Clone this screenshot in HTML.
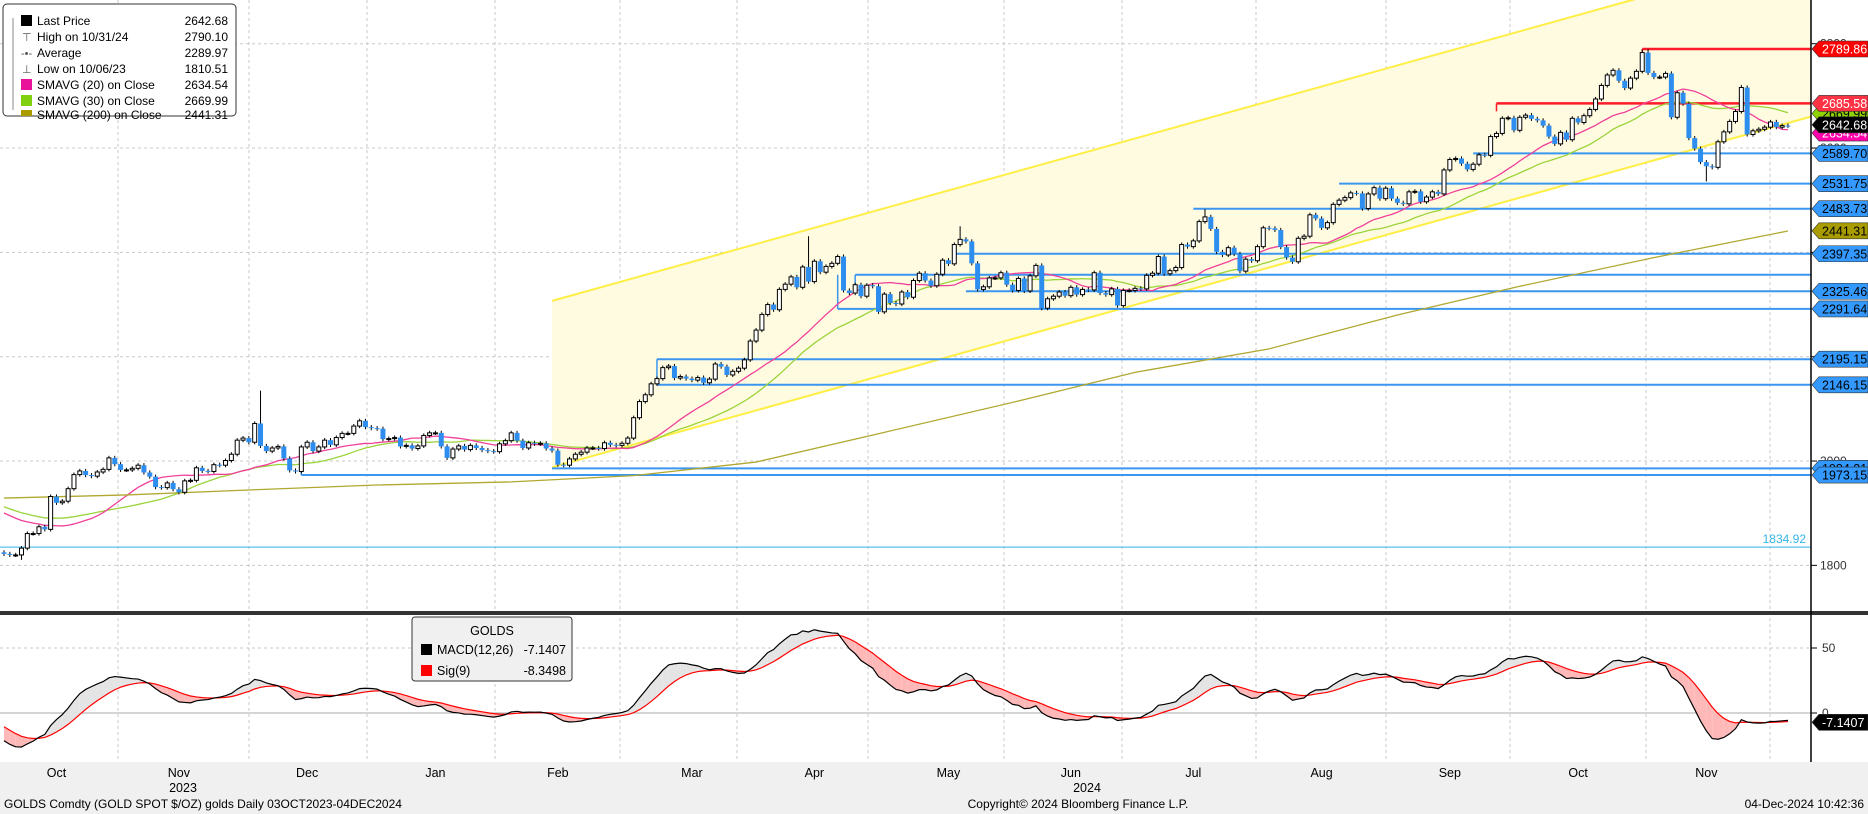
<!DOCTYPE html>
<html><head><meta charset="utf-8"><style>
html,body{margin:0;padding:0;background:#fff;}
svg{display:block;font-family:"Liberation Sans",sans-serif;}
</style></head><body>
<svg id="chart" width="1868" height="814" viewBox="0 0 1868 814" xmlns="http://www.w3.org/2000/svg">
<defs><clipPath id="mainClip"><rect x="0" y="0" width="1811" height="611"/></clipPath>
<clipPath id="macdClip"><rect x="0" y="615" width="1811" height="147"/></clipPath></defs>
<rect x="0" y="0" width="1868" height="814" fill="#fff"/>
<g id="grid"></g>
<g id="main" clip-path="url(#mainClip)"></g>
<g id="macd" clip-path="url(#macdClip)"></g>
<rect x="0" y="611" width="1868" height="4" fill="#333"/>
<rect x="0" y="762" width="1868" height="52" fill="#f0f0f0"/>
<line x1="1811" y1="0" x2="1811" y2="762" stroke="#000" stroke-width="1.5"/>
<g id="axis"></g>
<g id="tags"></g>

<g>
<rect x="3" y="4" width="233" height="112" rx="4" fill="#fff" fill-opacity="0.95" stroke="#333" stroke-width="1"/>
<g font-size="12" fill="#000">
<rect x="21" y="15" width="11" height="11" fill="#000"/><text x="37" y="25">Last Price</text><text x="228" y="25" text-anchor="end">2642.68</text>
<text x="22" y="41" font-size="11" fill="#555">⊤</text><text x="37" y="41">High on 10/31/24</text><text x="228" y="41" text-anchor="end">2790.10</text>
<text x="21" y="57" font-size="11" fill="#555">-•-</text><text x="37" y="57">Average</text><text x="228" y="57" text-anchor="end">2289.97</text>
<text x="22" y="73" font-size="11" fill="#555">⊥</text><text x="37" y="73">Low on 10/06/23</text><text x="228" y="73" text-anchor="end">1810.51</text>
<rect x="21" y="79" width="11" height="11" fill="#e8139a"/><text x="37" y="89">SMAVG (20)  on Close</text><text x="228" y="89" text-anchor="end">2634.54</text>
<rect x="21" y="95" width="11" height="11" fill="#80d010"/><text x="37" y="105">SMAVG (30)  on Close</text><text x="228" y="105" text-anchor="end">2669.99</text>
<rect x="21" y="110" width="11" height="6" fill="#a89c00"/><text x="37" y="119">SMAVG (200)  on Close</text><text x="228" y="119" text-anchor="end">2441.31</text>
</g>
<path d="M13 18 V110" stroke="#888" stroke-width="1" fill="none"/>
</g>

<g>
<rect x="412" y="617" width="160" height="64" rx="3" fill="#f0f0f0" stroke="#333"/>
<text x="492" y="635" text-anchor="middle" font-size="12.5">GOLDS</text>
<rect x="421" y="644" width="11" height="11" fill="#000"/><text x="437" y="654" font-size="12.5">MACD(12,26)</text><text x="566" y="654" font-size="12.5" text-anchor="end">-7.1407</text>
<rect x="421" y="665" width="11" height="11" fill="#f00"/><text x="437" y="675" font-size="12.5">Sig(9)</text><text x="566" y="675" font-size="12.5" text-anchor="end">-8.3498</text>
</g>

<g font-size="12" fill="#000">
<text x="4" y="808">GOLDS Comdty (GOLD SPOT $/OZ) golds  Daily 03OCT2023-04DEC2024</text>
<text x="1078" y="808" text-anchor="middle">Copyright© 2024 Bloomberg Finance L.P.</text>
<text x="1864" y="808" text-anchor="end">04-Dec-2024 10:42:36</text>
</g>
</svg>
<script>
// ---- data ----
const lookback = [1915,1918,1923,1920,1938,1939,1942,1940,1942,1940,1940,1939,1926,1916,1919,1922,1919,1913,1908,1910,1923,1933,1931,1930,1920,1925,1916,1901,1900,1874,1865,1848,1828];
const closes = [
1822,1820,1820,1833,1861,1861,1874,1869,1932,1920,1923,1947,1974,1981,1973,1971,1979,1984,2006,1994,1983,
1983,1986,1992,1978,1970,1950,1949,1958,1946,1940,1962,1963,1987,1981,1980,1993,1992,2001,2013,2040,2044,2036,
2072,2029,2019,2025,2028,2005,1982,1980,2027,2036,2019,2027,2040,2031,2045,2053,2053,2067,2077,2065,2063,
2062,2042,2043,2045,2028,2030,2024,2029,2049,2054,2054,2028,2006,2023,2029,2022,2030,2025,2021,2019,2018,2033,2039,
2054,2039,2025,2035,2033,2034,2024,2020,1993,1992,2004,2013,2017,2025,2025,2024,2035,2031,2030,2034,2044,
2083,2114,2127,2148,2158,2179,2182,2159,2162,2158,2155,2160,2150,2157,2186,2181,2165,2172,2178,2194,2230,
2251,2281,2300,2290,2329,2339,2353,2333,2372,2344,2383,2362,2373,2379,2392,2327,2322,2338,2316,2337,2335,2286,
2320,2303,2301,2324,2314,2346,2360,2346,2336,2358,2385,2378,2415,2425,2421,2379,2329,2334,2351,2351,2361,2338,2327,
2350,2326,2355,2375,2293,2311,2316,2324,2317,2333,2319,2329,2328,2361,2322,2319,2330,2298,2327,2327,
2331,2330,2356,2360,2392,2359,2365,2371,2415,2411,2422,2459,2468,2445,2401,2395,2409,2397,2364,2387,2384,2411,2447,
2446,2443,2410,2390,2382,2427,2431,2472,2465,2447,2457,2492,2500,2505,2514,2513,2484,2512,2524,2503,2523,2503,
2495,2493,2516,2517,2497,2506,2516,2512,2558,2578,2580,2570,2559,2569,2587,2586,2622,2628,2657,2658,2634,
2659,2663,2656,2653,2643,2622,2608,2630,2616,2657,2649,2662,2674,2694,2720,2740,2749,2729,2715,2734,2747,2783,2744,
2736,2736,2743,2659,2706,2685,2619,2599,2573,2565,2563,2612,2631,2651,2670,2716,2626,2633,2636,2640,2650,
2640,2643,2642.68];
const highIdx = [44,138,164,206,281,282,298];
const highVal = [2135,2431,2450,2483,2789,2790,2721];
const lowIdx = [3,292];
const lowVal = [1810.5,2536];
const sma200Idx = [0,21,43,64,87,108,129,151,174,194,217,239,260,283,306];
const sma200Val = [1929,1935,1945,1954,1960,1972,1998,2055,2115,2170,2215,2280,2335,2390,2441];
const monthLabels = ["Oct","Nov","Dec","Jan","Feb","Mar","Apr","May","Jun","Jul","Aug","Sep","Oct","Nov"];
const monthMidIdx = [9,30,52,74,95,118,139,162,183,204,226,248,270,292];
const priceTicks = [2800,2600,2400,2200,2000,1800];
const macdTicks = [50,0];
const blueLevels = [2589.70,2531.75,2483.73,2397.35,2357,2325.46,2291.64,2195.15,2146.15,1986,1973.15];
const blueStarts = [252,229,204,163,146,165,143,112,112,94,51];
const redLevels = [2789.86,2685.58];
const redStarts = [281,256];
// ---- scales ----
const N = closes.length;
const X = i => 4 + i*5.83;
const Y = p => 49 + (2789.86 - p)/1.917;
const MY = v => 713 - v*1.3;
const NS = "http://www.w3.org/2000/svg";
function mk(tag, attrs, parent){const e=document.createElementNS(NS,tag);for(const k in attrs)e.setAttribute(k,attrs[k]);parent.appendChild(e);return e;}
const grid=document.getElementById('grid'),main=document.getElementById('main'),macd=document.getElementById('macd'),axis=document.getElementById('axis'),tags=document.getElementById('tags');

// gridlines
const vGrid=[118,249,367,495,620,737,868,1004,1122,1256,1386,1510,1646,1770];
vGrid.forEach(x=>{const l=mk('line',{x1:x,y1:0,x2:x,y2:762,stroke:'#c8c8c8','stroke-dasharray':'3,3'},grid);});
priceTicks.forEach(p=>{const l=mk('line',{x1:0,y1:Y(p),x2:1811,y2:Y(p),stroke:'#c8c8c8','stroke-dasharray':'3,3'},grid);});
mk('line',{x1:0,y1:MY(50),x2:1811,y2:MY(50),stroke:'#c8c8c8','stroke-dasharray':'3,3'},grid);
mk('line',{x1:0,y1:MY(0),x2:1811,y2:MY(0),stroke:'#aaa'},grid);

// channel
const lp0=1988, lp1=2648, off=319;
const slope=(Y(lp1)-Y(lp0))/(X(306)-X(94));
const ly=x=>Y(lp0)+slope*(x-X(94));
const uy=x=>ly(x)-(Y(lp0)-Y(lp0+off));
const ch=mk('polygon',{points:`${X(94)},${ly(X(94))} 1811,${ly(1811)} 1811,${uy(1811)} ${X(94)},${uy(X(94))}`,fill:'#fffbe0'},main);

mk('line',{x1:X(94),y1:ly(X(94)),x2:1811,y2:ly(1811),stroke:'#ffee44','stroke-width':2},main);
mk('line',{x1:X(94),y1:uy(X(94)),x2:1811,y2:uy(1811),stroke:'#ffee44','stroke-width':2},main);

// 1834.92 line
const cl=mk('line',{x1:0,y1:Y(1834.92),x2:1811,y2:Y(1834.92),stroke:'#33b5e5','stroke-width':1},main);

const ct=mk('text',{x:1806,y:Y(1834.92)-4,'text-anchor':'end','font-size':12,fill:'#33b5e5'},main);ct.textContent='1834.92';

// horizontal levels
blueLevels.forEach((p,k)=>{const l=mk('line',{x1:X(blueStarts[k]),y1:Y(p),x2:1811,y2:Y(p),stroke:'#3a96ef','stroke-width':2},main);
});
mk('line',{x1:X(143),y1:Y(2357),x2:X(143),y2:Y(2291.64),stroke:'#3a96ef','stroke-width':1.5},main);
mk('line',{x1:X(146),y1:Y(2357),x2:X(146),y2:Y(2325.46),stroke:'#3a96ef','stroke-width':1.5},main);
mk('line',{x1:X(112),y1:Y(2195.15),x2:X(112),y2:Y(2146.15),stroke:'#3a96ef','stroke-width':1.5},main);
mk('line',{x1:X(51),y1:Y(2015),x2:X(51),y2:Y(1973.15),stroke:'#3a96ef','stroke-width':1.5},main);
redLevels.forEach((p,k)=>{const l=mk('line',{x1:X(redStarts[k]),y1:Y(p),x2:1811,y2:Y(p),stroke:'#ff1a2a','stroke-width':2.5},main);

mk('line',{x1:X(redStarts[k]),y1:Y(p),x2:X(redStarts[k]),y2:Y(p)+8,stroke:'#ff1a2a','stroke-width':1.5},main);});

// moving averages
const all=lookback.concat(closes), L=lookback.length;
function sma(n){const pts=[];for(let i=0;i<N;i++){const j=i+L;if(j<n-1)continue;let s=0;for(let k=j-n+1;k<=j;k++)s+=all[k];pts.push(X(i)+','+Y(s/n));}return pts.join(' ');}
const s30=mk('polyline',{points:sma(30),fill:'none',stroke:'#9ad43a','stroke-width':1.3},main);

const s20=mk('polyline',{points:sma(20),fill:'none',stroke:'#f0409a','stroke-width':1.3},main);

const s200=mk('polyline',{points:sma200Idx.map((d,k)=>X(d)+','+Y(sma200Val[k])).join(' '),fill:'none',stroke:'#b0a830','stroke-width':1.3},main);


// candles
for(let i=0;i<N;i++){
  const o=i===0?1825:closes[i-1], c=closes[i];
  let h=Math.max(o,c)+4, lo=Math.min(o,c)-4;
  const hk=highIdx.indexOf(i); if(hk>=0) h=highVal[hk];
  const lk=lowIdx.indexOf(i); if(lk>=0) lo=lowVal[lk];
  const x=X(i), up=c>=o;
  const g=mk('g',{},main);
  
  
  mk('line',{x1:x,y1:Y(h),x2:x,y2:Y(lo),stroke:'#000','stroke-width':1},g);
  const top=Y(Math.max(o,c)), hgt=Math.max(1,Y(Math.min(o,c))-top);
  if(up) mk('rect',{x:x-2,y:top,width:4,height:hgt,fill:'#fff',stroke:'#000','stroke-width':1},g);
  else mk('rect',{x:x-2.5,y:top,width:5,height:hgt,fill:'#2e8ef0'},g);
}

// MACD
function ema(arr,n){const a=2/(n+1);const out=[];let e=arr[0];arr.forEach((v,i)=>{e=i===0?v:a*v+(1-a)*e;out.push(e);});return out;}
const e12=ema(all,12),e26=ema(all,26);
const macdAll=all.map((v,i)=>e12[i]-e26[i]);
const sigAll=ema(macdAll,9);
const mv=macdAll.slice(L), sv=sigAll.slice(L);
for(let i=0;i<N-1;i++){
  const up=(mv[i]+mv[i+1])>=(sv[i]+sv[i+1]);
  mk('polygon',{points:`${X(i)},${MY(mv[i])} ${X(i+1)},${MY(mv[i+1])} ${X(i+1)},${MY(sv[i+1])} ${X(i)},${MY(sv[i])}`,fill:up?'#e4e4e4':'#ffb8b8',stroke:'none'},macd);
}
const sl=mk('polyline',{points:sv.map((v,i)=>X(i)+','+MY(v)).join(' '),fill:'none',stroke:'#f00','stroke-width':1.2},macd);

const ml=mk('polyline',{points:mv.map((v,i)=>X(i)+','+MY(v)).join(' '),fill:'none',stroke:'#000','stroke-width':1.2},macd);


// axes labels
monthLabels.forEach((m,k)=>{const t=mk('text',{x:X(monthMidIdx[k]),y:777,'text-anchor':'middle','font-size':12.5},axis);t.textContent=m;
});
const y23=mk('text',{x:183,y:792,'text-anchor':'middle','font-size':12.5},axis);y23.textContent='2023';
const y24=mk('text',{x:1087,y:792,'text-anchor':'middle','font-size':12.5},axis);y24.textContent='2024';
priceTicks.forEach(p=>{mk('line',{x1:1811,y1:Y(p),x2:1817,y2:Y(p),stroke:'#000'},axis);
 const t=mk('text',{x:1820,y:Y(p)+4,'font-size':12,fill:'#333'},axis);t.textContent=String(p);
 });
macdTicks.forEach(v=>{mk('line',{x1:1811,y1:MY(v),x2:1817,y2:MY(v),stroke:'#000'},axis);
 const t=mk('text',{x:1822,y:MY(v)+4,'font-size':12,fill:'#333'},axis);t.textContent=String(v);
 });

// price tags
function tag(p,yPos,bg,fg,label){
  const g=mk('g',{},tags);
  
  
  mk('polygon',{points:`1812,${yPos} 1819,${yPos-8} 1868,${yPos-8} 1868,${yPos+8} 1819,${yPos+8}`,fill:bg,stroke:'#333','stroke-width':0.6},g);
  const t=mk('text',{x:1822,y:yPos+4.5,'font-size':12.5,fill:fg},g);t.textContent=label;
}
tag(2669.99,Y(2669.99)+2,'#8fd400','#000','2669.99');
tag(2634.54,Y(2634.54)+3,'#ff00aa','#fff','2634.54');
tag(2685.58,Y(2685.58),'#ff3344','#fff','2685.58');
tag(2642.68,Y(2642.68)-1,'#000','#fff','2642.68');
tag(1986,Y(1986),'#3399ff','#000','1984.21');
[2789.86].forEach(p=>tag(p,Y(p),'#ff0000','#fff','2789.86'));
[2589.70,2531.75,2483.73,2397.35,2325.46,2291.64,2195.15,2146.15,1973.15].forEach(p=>tag(p,Y(p),'#3399ff','#000',p.toFixed(2)));
tag(2441.31,Y(2441.31),'#a89c00','#000','2441.31');
tag(-7.14,MY(-7.14),'#000','#fff','-7.1407');
</script>
</body></html>
